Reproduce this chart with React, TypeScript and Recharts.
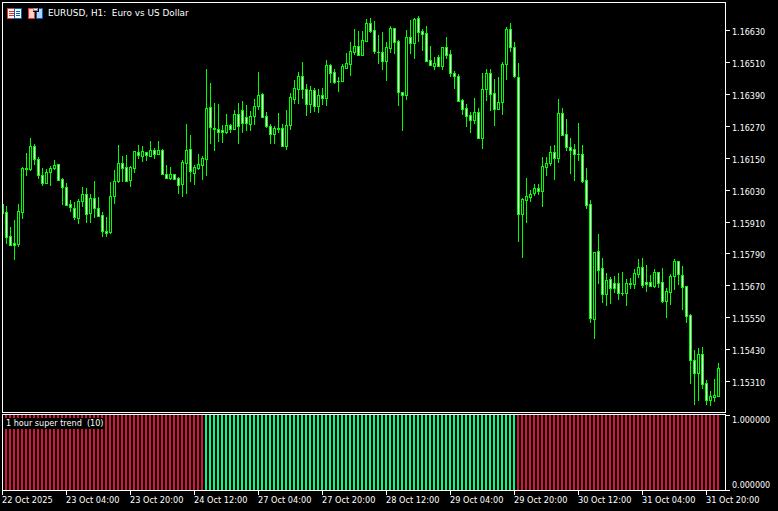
import { Bar, ComposedChart, XAxis, YAxis } from "recharts";

// ─── Data (prices in points, 1 point = 0.00001) ──────────
const opens = [
  115943, 115945, 115854, 115828, 115826, 115947, 116110, 116109, 116193, 116144,
  116086, 116056, 116095, 116113, 116125, 116069, 116039, 115975, 115963, 115924,
  115986, 116012, 115941, 115997, 115960, 115933, 115875, 115872, 116005, 116064,
  116129, 116114, 116065, 116113, 116173, 116158, 116173, 116158, 116178, 116165,
  116178, 116090, 116075, 116088, 116074, 116052, 116129, 116182, 116094, 116113,
  116124, 116146, 116340, 116263, 116257, 116255, 116248, 116272, 116257, 116314,
  116329, 116302, 116278, 116308, 116344, 116390, 116306, 116271, 116239, 116261,
  116261, 116194, 116274, 116372, 116410, 116457, 116408, 116354, 116404, 116346,
  116385, 116376, 116498, 116472, 116439, 116440, 116489, 116504, 116548, 116571,
  116537, 116590, 116656, 116630, 116550, 116547, 116515, 116564, 116637, 116589,
  116399, 116387, 116604, 116583, 116676, 116627, 116619, 116517, 116497, 116528,
  116497, 116566, 116540, 116468, 116460, 116366, 116336, 116310, 116293, 116321,
  116226, 116408, 116468, 116393, 116335, 116361, 116502, 116634, 116566, 116455,
  115939, 115990, 116003, 116018, 116035, 116026, 116116, 116131, 116171, 116149,
  116317, 116238, 116191, 116182, 116164, 116163, 116065, 115975, 115542, 115798,
  115734, 115638, 115692, 115677, 115677, 115642, 115642, 115677, 115676, 115713,
  115738, 115681, 115681, 115668, 115719, 115681, 115612, 115646, 115704, 115760,
  115707, 115666, 115557, 115387, 115341, 115410, 115301, 115239, 115250, 115254,
];
const highs = [
  115991, 115968, 115889, 115916, 115976, 116115, 116168, 116224, 116202, 116153,
  116111, 116107, 116118, 116142, 116125, 116073, 116054, 115991, 115982, 115994,
  116040, 116035, 116014, 116063, 116002, 115946, 115927, 116060, 116104, 116198,
  116157, 116160, 116119, 116174, 116198, 116193, 116173, 116213, 116186, 116213,
  116182, 116122, 116115, 116088, 116079, 116142, 116277, 116236, 116123, 116164,
  116157, 116484, 116431, 116356, 116352, 116273, 116314, 116277, 116330, 116356,
  116364, 116349, 116326, 116370, 116473, 116393, 116321, 116276, 116268, 116319,
  116277, 116330, 116396, 116444, 116473, 116511, 116427, 116420, 116414, 116409,
  116413, 116517, 116502, 116483, 116454, 116502, 116544, 116586, 116635, 116627,
  116627, 116672, 116676, 116665, 116612, 116624, 116586, 116646, 116639, 116592,
  116399, 116631, 116669, 116675, 116684, 116635, 116646, 116571, 116529, 116536,
  116566, 116605, 116555, 116477, 116464, 116371, 116352, 116322, 116375, 116336,
  116469, 116483, 116483, 116447, 116454, 116509, 116641, 116657, 116586, 116507,
  115999, 116073, 116029, 116051, 116051, 116153, 116153, 116194, 116198, 116371,
  116337, 116296, 116224, 116202, 116281, 116198, 116111, 115991, 115795, 115863,
  115773, 115716, 115701, 115705, 115716, 115720, 115692, 115697, 115731, 115769,
  115773, 115746, 115707, 115730, 115719, 115735, 115659, 115712, 115769, 115761,
  115743, 115666, 115562, 115426, 115434, 115438, 115313, 115272, 115317, 115377,
];
const lows = [
  115923, 115825, 115818, 115765, 115814, 115919, 116081, 116098, 116123, 116070,
  116045, 116056, 116041, 116104, 116064, 115972, 115971, 115946, 115916, 115901,
  115965, 115902, 115904, 115924, 115928, 115852, 115852, 115863, 115976, 116054,
  116060, 116060, 116041, 116091, 116146, 116131, 116138, 116158, 116146, 116165,
  116085, 116075, 116067, 116065, 116014, 116002, 116014, 116059, 116047, 116105,
  116066, 116081, 116203, 116177, 116209, 116207, 116239, 116244, 116257, 116202,
  116244, 116250, 116252, 116273, 116330, 116301, 116262, 116202, 116202, 116242,
  116194, 116179, 116255, 116352, 116352, 116372, 116307, 116317, 116323, 116319,
  116349, 116345, 116430, 116428, 116398, 116440, 116489, 116458, 116537, 116534,
  116533, 116590, 116619, 116541, 116503, 116480, 116439, 116543, 116541, 116345,
  116252, 116368, 116541, 116522, 116587, 116552, 116512, 116499, 116480, 116492,
  116478, 116522, 116454, 116409, 116364, 116311, 116266, 116243, 116277, 116226,
  116183, 116364, 116326, 116270, 116331, 116311, 116443, 116548, 116450, 115833,
  115773, 115904, 115985, 116006, 116010, 115965, 116081, 116119, 116066, 116130,
  116232, 116175, 116089, 116063, 116138, 116055, 115957, 115529, 115469, 115675,
  115603, 115592, 115599, 115640, 115615, 115630, 115592, 115655, 115655, 115697,
  115660, 115645, 115660, 115660, 115660, 115603, 115547, 115596, 115652, 115671,
  115577, 115528, 115298, 115219, 115234, 115279, 115219, 115215, 115230, 115254,
];
const closes = [
  115976, 115853, 115822, 115823, 115948, 116111, 116109, 116193, 116144, 116086,
  116056, 116095, 116110, 116122, 116067, 116039, 115973, 115963, 115926, 115987,
  116012, 115939, 115997, 115960, 115932, 115875, 115868, 116005, 116064, 116129,
  116113, 116064, 116114, 116174, 116160, 116174, 116160, 116178, 116165, 116178,
  116090, 116075, 116088, 116071, 116049, 116134, 116178, 116099, 116114, 116125,
  116148, 116336, 116265, 116257, 116248, 116248, 116272, 116257, 116314, 116268,
  116282, 116280, 116308, 116344, 116385, 116303, 116271, 116239, 116261, 116260,
  116194, 116274, 116378, 116412, 116457, 116410, 116354, 116405, 116346, 116385,
  116376, 116498, 116470, 116436, 116438, 116494, 116506, 116551, 116571, 116537,
  116593, 116656, 116627, 116553, 116549, 116515, 116566, 116639, 116587, 116399,
  116387, 116604, 116583, 116671, 116625, 116617, 116514, 116500, 116506, 116497,
  116566, 116538, 116468, 116459, 116365, 116335, 116308, 116293, 116321, 116226,
  116408, 116468, 116391, 116335, 116361, 116502, 116634, 116566, 116459, 115939,
  115995, 116005, 116012, 116035, 116026, 116118, 116131, 116171, 116149, 116317,
  116236, 116191, 116180, 116164, 116163, 116063, 115972, 115548, 115794, 115729,
  115636, 115691, 115661, 115661, 115640, 115641, 115677, 115676, 115715, 115738,
  115672, 115676, 115668, 115719, 115680, 115612, 115647, 115704, 115760, 115711,
  115665, 115555, 115387, 115341, 115410, 115298, 115239, 115252, 115256, 115357,
];
// 1 = up trend, 0 = down trend
const trend = [
  0, 0, 0, 0, 0, 0, 0, 0, 0, 0, 0, 0, 0, 0, 0, 0, 0, 0, 0, 0,
  0, 0, 0, 0, 0, 0, 0, 0, 0, 0, 0, 0, 0, 0, 0, 0, 0, 0, 0, 0,
  0, 0, 0, 0, 0, 0, 0, 0, 0, 0, 0, 1, 1, 1, 1, 1, 1, 1, 1, 1,
  1, 1, 1, 1, 1, 1, 1, 1, 1, 1, 1, 1, 1, 1, 1, 1, 1, 1, 1, 1,
  1, 1, 1, 1, 1, 1, 1, 1, 1, 1, 1, 1, 1, 1, 1, 1, 1, 1, 1, 1,
  1, 1, 1, 1, 1, 1, 1, 1, 1, 1, 1, 1, 1, 1, 1, 1, 1, 1, 1, 1,
  1, 1, 1, 1, 1, 1, 1, 1, 1, 0, 0, 0, 0, 0, 0, 0, 0, 0, 0, 0,
  0, 0, 0, 0, 0, 0, 0, 0, 0, 0, 0, 0, 0, 0, 0, 0, 0, 0, 0, 0,
  0, 0, 0, 0, 0, 0, 0, 0, 0, 0, 0, 0, 0, 0, 0, 0, 0, 0, 0, 0,
];
const priceTicks = [
  116630, 116510, 116390, 116270, 116150, 116030, 115910, 115790, 115670, 115550,
  115430, 115310,
];
const trendTicks = [1, 0];
const timeLabels = [
  "22 Oct 2025", "23 Oct 04:00", "23 Oct 20:00", "24 Oct 12:00", "27 Oct 04:00",
  "27 Oct 20:00", "28 Oct 12:00", "29 Oct 04:00", "29 Oct 20:00", "30 Oct 12:00",
  "31 Oct 04:00", "31 Oct 20:00",
];
const timeTicks = [0, 16, 32, 48, 64, 80, 96, 112, 128, 144, 160, 176];

const candles = opens.map((open, i) => ({
  bar: i,
  open,
  close: closes[i],
  range: [lows[i], highs[i]],
}));
const trendBars = trend.map((t, i) => ({ bar: i, up: t, down: 1 - t }));

// ─── Styling ─────────────────────────────────────────────
const FONT = '"DejaVu Sans", sans-serif';
const GREEN = "#00ff00";

// ─── Custom shapes and ticks ─────────────────────────────
function Candle(props: any) {
  const { x, y, width, height, payload } = props;
  const [low, high] = payload.range;
  const k = height / (high - low);
  const col = Math.floor(x + width / 2);
  const top = Math.round(y + (high - Math.max(payload.open, payload.close)) * k);
  const bottom = Math.round(y + (high - Math.min(payload.open, payload.close)) * k);
  const inner = payload.close < payload.open ? "#ffffff" : "#000000";
  return (
    <g shapeRendering="crispEdges">
      <rect x={col} y={Math.round(y)} width={1} height={Math.max(1, Math.round(height))} fill={GREEN} />
      <rect x={col - 1} y={top} width={3} height={bottom - top + 1} fill={GREEN} />
      {bottom - top > 1 && (
        <rect x={col} y={top + 1} width={1} height={bottom - top - 1} fill={inner} />
      )}
    </g>
  );
}

function PriceTick({ y, payload }: any) {
  const row = Math.round(y);
  return (
    <g>
      <rect x={726} y={row} width={4} height={1} fill="#fff" shapeRendering="crispEdges" />
      <text x={732} y={row + 5} fill="#fff" fontFamily={FONT} fontSize={8}>
        {(payload.value / 100000).toFixed(5)}
      </text>
    </g>
  );
}

function TrendTick({ y, payload }: any) {
  const row = Math.round(y);
  return (
    <g>
      <rect x={726} y={row} width={4} height={1} fill="#fff" shapeRendering="crispEdges" />
      <text
        x={732}
        y={payload.value === 1 ? row + 8 : row - 2}
        fill="#fff"
        fontFamily={FONT}
        fontSize={8}
      >
        {payload.value.toFixed(6)}
      </text>
    </g>
  );
}

function TimeTick({ x, y, payload }: any) {
  const col = Math.floor(x);
  return (
    <g>
      <rect x={col} y={y + 1} width={1} height={4} fill="#fff" shapeRendering="crispEdges" />
      <text x={col} y={y + 13} fill="#fff" fontFamily={FONT} fontSize={8.2}>
        {timeLabels[timeTicks.indexOf(payload.value)]}
      </text>
    </g>
  );
}

function TitleIcons() {
  return (
    <svg
      width={40}
      height={14}
      style={{ position: "absolute", left: 5, top: 6 }}
      shapeRendering="crispEdges"
    >
      <rect x={2.5} y={2.5} width={7} height={10} fill="#fff" stroke="#e8352c" />
      <rect x={9.5} y={2.5} width={7} height={10} fill="#fff" stroke="#0a5fb0" />
      {[5, 7, 9].map((r) => (
        <g key={r}>
          <rect x={4} y={r} width={5} height={1} fill="#e8352c" />
          <rect x={11} y={r} width={4} height={1} fill="#0a5fb0" />
        </g>
      ))}
      <rect x={23.5} y={2.5} width={6} height={10} fill="#ffd0c8" stroke="#e8352c" />
      <rect x={31.5} y={2.5} width={6} height={10} fill="#a8d8ff" stroke="#0a5fb0" />
      <rect x={28} y={1} width={6} height={5} fill="#000" />
      <rect x={28.5} y={2.5} width={4} height={2} fill="#f0f0f0" stroke="#909090" />
    </svg>
  );
}

// ─── Component ───────────────────────────────────────────
export default function App() {
  return (
    <div
      style={{
        position: "absolute",
        left: 0,
        top: 0,
        width: 778,
        height: 511,
        background: "#000",
        overflow: "hidden",
      }}
    >
      {/* Price pane */}
      <div style={{ position: "absolute", left: 0, top: 0 }}>
        <ComposedChart
          width={778}
          height={413}
          data={candles}
          margin={{ top: 3, right: 0, bottom: 1, left: 0 }}
        >
          <XAxis dataKey="bar" hide padding={{ left: 0, right: 5 }} />
          <YAxis
            orientation="right"
            width={53}
            type="number"
            domain={[115193, 116733]}
            ticks={priceTicks}
            interval={0}
            axisLine={false}
            tickLine={false}
            tick={<PriceTick />}
          />
          <Bar dataKey="range" barSize={3} shape={Candle} isAnimationActive={false} />
        </ComposedChart>
      </div>

      {/* Trend pane */}
      <div style={{ position: "absolute", left: 0, top: 0 }}>
        <ComposedChart
          width={778}
          height={511}
          data={trendBars}
          margin={{ top: 415, right: 0, bottom: 0, left: 0 }}
        >
          <XAxis
            dataKey="bar"
            height={21}
            padding={{ left: 0, right: 5 }}
            ticks={timeTicks}
            interval={0}
            axisLine={false}
            tickLine={false}
            tickSize={0}
            tickMargin={0}
            tick={<TimeTick />}
          />
          <YAxis
            orientation="right"
            width={53}
            type="number"
            domain={[0, 1]}
            ticks={trendTicks}
            interval={0}
            axisLine={false}
            tickLine={false}
            tick={<TrendTick />}
          />
          <Bar dataKey="up" stackId="trend" fill="#00ff7f" barSize={2} isAnimationActive={false} />
          <Bar dataKey="down" stackId="trend" fill="#dc143c" barSize={2} isAnimationActive={false} />
        </ComposedChart>
      </div>

      {/* Pane frames */}
      <div style={{ position: "absolute", left: 0, top: 0, width: 2, height: 491, background: "#000" }} />
      <div
        style={{
          position: "absolute",
          left: 2,
          top: 2,
          width: 724,
          height: 411,
          boxSizing: "border-box",
          border: "1px solid #fff",
        }}
      />
      <div
        style={{
          position: "absolute",
          left: 2,
          top: 414,
          width: 724,
          height: 77,
          boxSizing: "border-box",
          border: "1px solid #fff",
        }}
      />

      {/* Labels */}
      <TitleIcons />
      <div
        style={{
          position: "absolute",
          left: 48,
          top: 8,
          color: "#fff",
          fontFamily: FONT,
          fontSize: 8.9,
          lineHeight: "11px",
          whiteSpace: "pre",
        }}
      >
        {"EURUSD, H1:  Euro vs US Dollar"}
      </div>
      <div
        style={{
          position: "absolute",
          left: 5,
          top: 418,
          height: 11,
          padding: "0 1px",
          background: "#000",
          color: "#fff",
          fontFamily: FONT,
          fontSize: 8.1,
          lineHeight: "11px",
          whiteSpace: "pre",
        }}
      >
        {"1 hour super trend  (10)"}
      </div>
    </div>
  );
}
